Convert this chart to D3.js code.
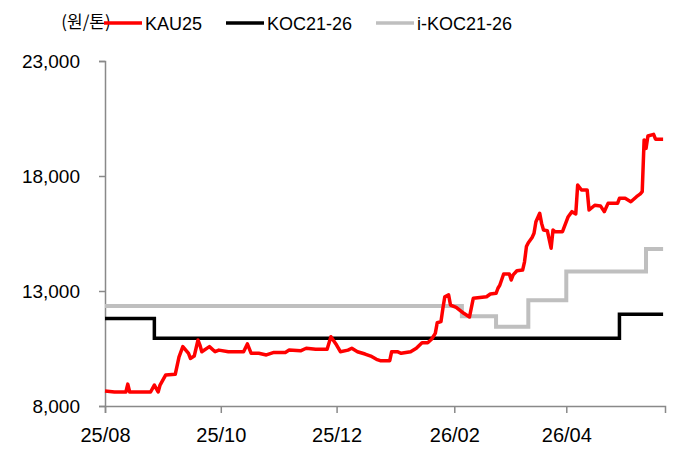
<!DOCTYPE html>
<html>
<head>
<meta charset="utf-8">
<script src="https://cdn.jsdelivr.net/npm/d3@7"></script>
<style>
  body { margin: 0; background: #fff; }
  svg { display: block; font-family: "Liberation Sans", Arial, sans-serif; }
</style>
</head>
<body>
<div id="chart"></div>
<script>
const seriesNames = ['KAU25', 'KOC21-26', 'i-KOC21-26'];
const yTicks = [8000, 13000, 18000, 23000];
const xTicks = ['2025-08-01', '2025-10-01', '2025-12-01', '2026-02-01', '2026-04-01'];

const kau25 = [
  ['2025-08-01', 8650], ['2025-08-06', 8610], ['2025-08-12', 8610], ['2025-08-13', 8950], ['2025-08-14', 8610],
  ['2025-08-25', 8610], ['2025-08-27', 8910], ['2025-08-29', 8610], ['2025-08-30', 8910], ['2025-09-02', 9350],
  ['2025-09-07', 9380], ['2025-09-09', 10140], ['2025-09-11', 10580], ['2025-09-14', 10290], ['2025-09-15', 10070],
  ['2025-09-17', 10170], ['2025-09-19', 10870], ['2025-09-20', 10650], ['2025-09-21', 10360], ['2025-09-25', 10580],
  ['2025-09-28', 10360], ['2025-09-30', 10430], ['2025-10-05', 10360], ['2025-10-13', 10360], ['2025-10-15', 10700],
  ['2025-10-17', 10290], ['2025-10-21', 10290], ['2025-10-25', 10220], ['2025-10-29', 10330], ['2025-11-04', 10330],
  ['2025-11-06', 10430], ['2025-11-12', 10400], ['2025-11-15', 10510], ['2025-11-20', 10470], ['2025-11-26', 10470],
  ['2025-11-28', 11010], ['2025-12-01', 10650], ['2025-12-03', 10360], ['2025-12-07', 10430], ['2025-12-09', 10510],
  ['2025-12-12', 10360], ['2025-12-16', 10260], ['2025-12-19', 10170], ['2025-12-22', 10030], ['2025-12-24', 9970],
  ['2025-12-29', 9970], ['2025-12-30', 10360], ['2026-01-02', 10360], ['2026-01-04', 10290], ['2026-01-09', 10360],
  ['2026-01-12', 10510], ['2026-01-15', 10750], ['2026-01-18', 10750], ['2026-01-20', 10900], ['2026-01-22', 11160],
  ['2026-01-23', 11620], ['2026-01-25', 11670], ['2026-01-26', 12250], ['2026-01-27', 12750], ['2026-01-29', 12830],
  ['2026-01-30', 12390], ['2026-02-02', 12290], ['2026-02-06', 12030], ['2026-02-09', 11870], ['2026-02-11', 12680],
  ['2026-02-18', 12750], ['2026-02-20', 12870], ['2026-02-23', 12900], ['2026-02-24', 13120], ['2026-02-25', 13260],
  ['2026-02-27', 13740], ['2026-03-02', 13740], ['2026-03-03', 13480], ['2026-03-04', 13700], ['2026-03-06', 13880],
  ['2026-03-09', 13910], ['2026-03-10', 14270], ['2026-03-11', 14930], ['2026-03-12', 15100], ['2026-03-14', 15330],
  ['2026-03-15', 15510], ['2026-03-16', 16010], ['2026-03-18', 16380], ['2026-03-19', 15940], ['2026-03-20', 15650],
  ['2026-03-22', 15620], ['2026-03-24', 14860], ['2026-03-25', 15650], ['2026-03-26', 15580], ['2026-03-30', 15580],
  ['2026-04-02', 16230], ['2026-04-04', 16450], ['2026-04-06', 16350], ['2026-04-07', 17610], ['2026-04-09', 17390],
  ['2026-04-12', 17390], ['2026-04-13', 16520], ['2026-04-16', 16730], ['2026-04-19', 16700], ['2026-04-21', 16450],
  ['2026-04-23', 16810], ['2026-04-28', 16810], ['2026-04-29', 17030], ['2026-05-02', 17030], ['2026-05-05', 16880],
  ['2026-05-08', 17100], ['2026-05-10', 17220], ['2026-05-11', 17320], ['2026-05-12', 19570], ['2026-05-13', 19200],
  ['2026-05-14', 19740], ['2026-05-17', 19810], ['2026-05-18', 19600], ['2026-05-22', 19600]
];
const koc2126 = [
  ['2025-08-01', 11800], ['2025-08-27', 10950], ['2026-04-29', 11990], ['2026-05-22', 11990]
];
const ikoc2126 = [
  ['2025-08-01', 12350], ['2026-02-05', 11900], ['2026-02-23', 11450], ['2026-03-12', 12600],
  ['2026-04-01', 13850], ['2026-05-13', 14830], ['2026-05-22', 14830]
];

const W = 689, H = 457;
const parse = d3.timeParse('%Y-%m-%d');
const toPts = arr => arr.map(([d, v]) => ({ date: parse(d), value: v }));

const svg = d3.select('#chart').append('svg').attr('width', W).attr('height', H);

const x = d3.scaleTime().domain([parse('2025-08-01'), parse('2026-05-23')]).range([105, 665]);
const y = d3.scaleLinear().domain([8000, 23000]).range([406, 61]);

const axisColor = '#898989';

// y axis
const yAxis = svg.append('g').attr('transform', 'translate(105,0)')
  .call(d3.axisLeft(y).tickValues(yTicks).tickFormat(d3.format(',')).tickSize(6).tickPadding(19));
yAxis.select('.domain').attr('stroke', axisColor).attr('stroke-width', 1.5);
yAxis.selectAll('.tick line').attr('stroke', axisColor).attr('stroke-width', 1.5);
yAxis.selectAll('.tick text').attr('fill', '#000').style('font-size', '19px');

// x axis
const xAxis = svg.append('g').attr('transform', 'translate(0,406)')
  .call(d3.axisBottom(x).tickValues(xTicks.map(parse)).tickFormat(d3.timeFormat('%y/%m')).tickSize(7).tickPadding(15));
xAxis.select('.domain').attr('stroke', axisColor).attr('stroke-width', 1.5);
xAxis.selectAll('.tick line').attr('stroke', axisColor).attr('stroke-width', 1.5);
xAxis.selectAll('.tick text').attr('fill', '#000').style('font-size', '20px');

const line = d3.line().x(d => x(d.date)).y(d => y(d.value));
const stepLine = d3.line().x(d => x(d.date)).y(d => y(d.value)).curve(d3.curveStepAfter);

svg.append('path').datum(toPts(ikoc2126)).attr('fill', 'none').attr('stroke', '#BFBFBF')
  .attr('stroke-width', 4).attr('d', stepLine);
svg.append('path').datum(toPts(koc2126)).attr('fill', 'none').attr('stroke', '#000')
  .attr('stroke-width', 3.5).attr('d', stepLine);
svg.append('path').datum(toPts(kau25)).attr('fill', 'none').attr('stroke', '#FF0000')
  .attr('stroke-width', 3.5).attr('stroke-linejoin', 'round').attr('d', line);

// unit label
svg.append('text').attr('x', 86).attr('y', 28).attr('text-anchor', 'middle')
  .style('font-family', '"Noto Sans CJK KR", sans-serif').style('font-size', '17px').text('(원/톤)');

// legend
const legendColors = ['#FF0000', '#000', '#BFBFBF'];
const legendX = [104, 226, 376];
seriesNames.forEach((name, i) => {
  const g = svg.append('g').attr('transform', `translate(${legendX[i]},23)`);
  g.append('line').attr('x1', 0).attr('x2', 38).attr('stroke', legendColors[i]).attr('stroke-width', 3.5);
  g.append('text').attr('x', 41).attr('y', 7).style('font-size', '18px').text(name);
});
</script>
</body>
</html>
